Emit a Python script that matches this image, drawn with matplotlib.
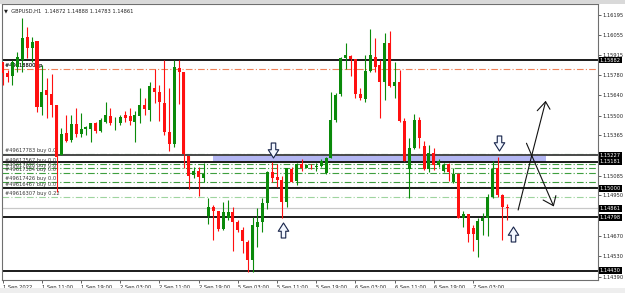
import matplotlib
matplotlib.use("Agg")
import matplotlib.pyplot as plt
import matplotlib.transforms as mtransforms
from matplotlib.patches import Rectangle
from matplotlib.path import Path

# GBPUSD H1 candles, 1 Sep 03:00 .. 7 Sep 10:00
opens = [1.15869, 1.15791, 1.15772, 1.15836, 1.15883, 1.16043, 1.15963, 1.16014, 1.15561, 1.15676,
         1.15648, 1.15573, 1.15228, 1.15378, 1.15331, 1.15442, 1.15371, 1.15407, 1.15407, 1.15446,
         1.15393, 1.15457, 1.15497, 1.15453, 1.15446, 1.15504, 1.15497, 1.15453, 1.15497, 1.15573,
         1.15538, 1.15692, 1.15664, 1.15584, 1.15384, 1.15302, 1.15830, 1.15802, 1.15223, 1.15090,
         1.15118, 1.15072, 1.14810, 1.14872, 1.14842, 1.14718, 1.14792, 1.14837, 1.14764, 1.14711,
         1.14631, 1.14505, 1.14734, 1.14764, 1.14895, 1.15113, 1.15079, 1.15056, 1.14906, 1.15132,
         1.15049, 1.15164, 1.15141, 1.15154, 1.15147, 1.15154, 1.15102, 1.15209, 1.15469, 1.15646,
         1.15898, 1.15912, 1.15889, 1.15646, 1.15614, 1.15807, 1.15905, 1.15848, 1.15733, 1.15998,
         1.15706, 1.15733, 1.15462, 1.15132, 1.15274, 1.15469, 1.15292, 1.15132, 1.15240, 1.15159,
         1.15118, 1.15164, 1.15044, 1.15095, 1.14796, 1.14819, 1.14723, 1.14642, 1.14773, 1.14792,
         1.14941, 1.15136, 1.14952, 1.14872]
highs = [1.15870, 1.15814, 1.15883, 1.15940, 1.16170, 1.16112, 1.16043, 1.16014, 1.15848, 1.15757,
         1.15784, 1.15573, 1.15412, 1.15504, 1.15504, 1.15550, 1.15515, 1.15430, 1.15446, 1.15453,
         1.15485, 1.15595, 1.15550, 1.15492, 1.15504, 1.15531, 1.15550, 1.15531, 1.15692, 1.15623,
         1.15729, 1.15819, 1.15710, 1.15883, 1.15692, 1.15883, 1.15883, 1.15802, 1.15223, 1.15147,
         1.15147, 1.15171, 1.14934, 1.14884, 1.14842, 1.14902, 1.14918, 1.14872, 1.14780, 1.14734,
         1.14642, 1.14800, 1.14865, 1.14930, 1.15118, 1.15182, 1.15164, 1.15085, 1.15141, 1.15147,
         1.15171, 1.15200, 1.15164, 1.15164, 1.15171, 1.15200, 1.15216, 1.15660, 1.15653, 1.15905,
         1.15998, 1.15917, 1.15889, 1.15688, 1.15917, 1.16096, 1.16032, 1.15883, 1.16067, 1.16082,
         1.15871, 1.15814, 1.15481, 1.15343, 1.15508, 1.15492, 1.15325, 1.15297, 1.15278, 1.15200,
         1.15171, 1.15171, 1.15136, 1.15102, 1.14842, 1.14819, 1.14746, 1.14796, 1.14826, 1.14957,
         1.15187, 1.15216, 1.14957, 1.14888]
lows = [1.15710, 1.15733, 1.15710, 1.15802, 1.15802, 1.15894, 1.15871, 1.15526, 1.15504, 1.15481,
        1.15492, 1.14975, 1.15228, 1.15316, 1.15320, 1.15354, 1.15354, 1.15366, 1.15316, 1.15378,
        1.15384, 1.15446, 1.15435, 1.15400, 1.15435, 1.15457, 1.15435, 1.15316, 1.15446, 1.15504,
        1.15462, 1.15584, 1.15462, 1.15366, 1.15256, 1.15285, 1.15577, 1.15136, 1.14994, 1.15072,
        1.14948, 1.15044, 1.14751, 1.14642, 1.14705, 1.14711, 1.14780, 1.14567, 1.14700, 1.14551,
        1.14424, 1.14424, 1.14596, 1.14700, 1.14856, 1.15044, 1.15010, 1.14796, 1.14872, 1.15040,
        1.15021, 1.15118, 1.15136, 1.15132, 1.15118, 1.15147, 1.15095, 1.15209, 1.15457, 1.15637,
        1.15821, 1.15774, 1.15619, 1.15607, 1.15595, 1.15802, 1.15802, 1.15481, 1.15607, 1.15699,
        1.15619, 1.15457, 1.15187, 1.14930, 1.15269, 1.15274, 1.15125, 1.15113, 1.15125, 1.15147,
        1.15109, 1.15049, 1.15033, 1.14792, 1.14734, 1.14627, 1.14567, 1.14527, 1.14677, 1.14672,
        1.14930, 1.14941, 1.14642, 1.14783]
closes = [1.15793, 1.15768, 1.15871, 1.15905, 1.16036, 1.15963, 1.16009, 1.15561, 1.15660, 1.15641,
          1.15573, 1.15216, 1.15371, 1.15325, 1.15442, 1.15371, 1.15407, 1.15423, 1.15446, 1.15393,
          1.15469, 1.15504, 1.15446, 1.15457, 1.15492, 1.15481, 1.15462, 1.15504, 1.15573, 1.15545,
          1.15703, 1.15664, 1.15595, 1.15384, 1.15302, 1.15836, 1.15802, 1.15233, 1.15085, 1.15118,
          1.15079, 1.15095, 1.14872, 1.14842, 1.14718, 1.14833, 1.14833, 1.14768, 1.14711, 1.14636,
          1.14505, 1.14746, 1.14768, 1.14895, 1.15113, 1.15072, 1.15056, 1.14906, 1.15136, 1.15044,
          1.15164, 1.15141, 1.15159, 1.15150, 1.15154, 1.15187, 1.15209, 1.15469, 1.15641, 1.15898,
          1.15917, 1.15889, 1.15646, 1.15619, 1.15807, 1.15917, 1.15836, 1.15733, 1.15998, 1.15706,
          1.15733, 1.15462, 1.15187, 1.15274, 1.15469, 1.15347, 1.15132, 1.15240, 1.15159, 1.15187,
          1.15159, 1.15109, 1.15095, 1.14796, 1.14819, 1.14682, 1.14682, 1.14773, 1.14792, 1.14941,
          1.15132, 1.14952, 1.14872, 1.14861]

time_ticks = [0, 8, 16, 24, 32, 40, 48, 56, 64, 72, 80, 88, 96]
time_labels = ["1 Sep 2022", "1 Sep 11:00", "1 Sep 19:00", "2 Sep 03:00", "2 Sep 11:00",
               "2 Sep 19:00", "5 Sep 03:00", "5 Sep 11:00", "5 Sep 19:00", "6 Sep 03:00",
               "6 Sep 11:00", "6 Sep 19:00", "7 Sep 03:00"]
price_ticks = [1.14390, 1.14530, 1.14670, 1.14810, 1.14950, 1.15085, 1.15225, 1.15365,
               1.15500, 1.15640, 1.15780, 1.15915, 1.16055, 1.16195]
# scale labels that sit fully under a price tag in the terminal
hidden_ticks = [1.14810, 1.15225]

# horizontal levels drawn on the chart
level_lines = [1.15882, 1.15181, 1.15000, 1.14798, 1.14430]
zone_line = 1.15227
bid_price = 1.14861
tp_price = 1.15821
zone_low, zone_high = 1.15181, 1.15227
zone_start, zone_end = 42.9, 110.9
order_prices = [1.15235, 1.15164, 1.15136, 1.15106, 1.15044, 1.15005, 1.14941]
order_labels = ["#49617783 buy 0.0", "#49617567 buy 0.0", "#49617628 buy 0.0",
                "#49617584 buy 0.0", "#49617426 buy 0.0", "#49616467 buy 0.0",
                "#49616307 buy 0.22"]
tagged_prices = [1.15882, 1.15227, 1.15181, 1.15000, 1.14861, 1.14798, 1.14430]

# hollow arrows: (bar, price, direction)
arrows = [(55.2, 1.15263, "down"), (57.2, 1.14711, "up"),
          (101.3, 1.15309, "down"), (104.1, 1.14684, "up")]

# freehand scenario sketch
sketch_up_x = [105.2, 108.0, 110.8]
sketch_up_y = [1.14849, 1.15228, 1.15595]
sketch_up_head_x = [109.1, 110.8, 111.7]
sketch_up_head_y = [1.15533, 1.15595, 1.15543]
sketch_down_x = [106.9, 112.4]
sketch_down_y = [1.15309, 1.14879]
sketch_down_head_x = [110.3, 112.4, 112.9]
sketch_down_head_y = [1.14918, 1.14879, 1.14948]

BULL = "#0a8a0a"
BEAR = "#ff1010"
FS = 3.7

plt.rcParams["font.family"] = ["DejaVu Sans"]
fig = plt.figure(figsize=(6.25, 2.93), dpi=100)
fig.patch.set_facecolor("white")
fig.patches.append(Rectangle((0, 0.988), 1, 0.012, transform=fig.transFigure,
                             facecolor="#d9d9d9", edgecolor="none"))
fig.patches.append(Rectangle((0, 0), 1, 0.018, transform=fig.transFigure,
                             facecolor="#eeeeee", edgecolor="none"))

ax = fig.add_axes([2 / 625, 13 / 293, 596 / 625, 276 / 293])
ax.set_xlim(-0.14, 121.5)
ax.set_ylim(1.14367, 1.16268)
for side in ax.spines.values():
    side.set_color("#6f6f6f")
    side.set_linewidth(0.8)

# levels and zone (behind candles, as in the terminal)
ax.add_patch(Rectangle((zone_start, zone_low), zone_end - zone_start, zone_high - zone_low,
                       facecolor="#b3b6f2", edgecolor="none", zorder=0.5))
ax.axhline(bid_price, color="#c8c8c8", lw=0.9, zorder=1)
ax.axhline(zone_line, color="#4a4a4a", lw=1.4, zorder=1.1)
for lvl in level_lines:
    ax.axhline(lvl, color="#1a1a1a", lw=1.4, zorder=1.1)
ax.axhline(tp_price, color="#f0825a", lw=0.8, ls=(0, (6, 2, 1, 2)), zorder=1)
for i, (p, lab) in enumerate(zip(order_prices, order_labels)):
    col = "#9fd49f" if i == len(order_prices) - 1 else "#3f9f3f"
    ax.axhline(p, color=col, lw=0.8, ls=(0, (6, 2, 1, 2)), zorder=1)
    ax.annotate(lab, (0.4, p), xytext=(0, 0.6), textcoords="offset points",
                fontsize=FS, color="#3a3a3a", va="bottom", ha="left", zorder=2)
for dx in (0, 0.25):
    ax.annotate("#49618800 tp", (0.4, tp_price), xytext=(dx, 0.6), textcoords="offset points",
                fontsize=FS, color="#2a2a2a", va="bottom", ha="left", zorder=2)

# candles
xs = list(range(len(opens)))
colors = [BULL if c >= o else BEAR for o, c in zip(opens, closes)]
ax.vlines(xs, lows, highs, colors=colors, lw=0.8, zorder=3)
bottoms = [min(o, c) for o, c in zip(opens, closes)]
heights = [max(abs(c - o), 0.00002) for o, c in zip(opens, closes)]
ax.bar(xs, heights, bottom=bottoms, width=0.62, color=colors, linewidth=0, zorder=3.1)

# hollow block arrows
down_path = Path([(-0.3, 1), (0.3, 1), (0.3, 0.1), (0.7, 0.1), (0, -1),
                  (-0.7, 0.1), (-0.3, 0.1), (-0.3, 1)], closed=True)
up_path = Path([(x, -y) for x, y in down_path.vertices], closed=True)
for bx, by, way in arrows:
    ax.plot([bx], [by], marker=down_path if way == "down" else up_path, markersize=10.8,
            markerfacecolor="#f3f7ff", markeredgecolor="#17244a", markeredgewidth=0.8,
            linestyle="none", zorder=5)

# sketch lines
for sx, sy in [(sketch_up_x, sketch_up_y), (sketch_up_head_x, sketch_up_head_y),
               (sketch_down_x, sketch_down_y), (sketch_down_head_x, sketch_down_head_y)]:
    ax.plot(sx, sy, color="#111111", lw=0.8, zorder=5, solid_capstyle="round")

# axes
ax.yaxis.tick_right()
ax.set_yticks(price_ticks)
ax.set_yticklabels(["" if p in hidden_ticks else f"{p:.5f}" for p in price_ticks])
ax.tick_params(axis="y", length=2, width=0.5, pad=1, labelsize=FS, colors="#222222")
ax.set_xticks(time_ticks)
ax.set_xticklabels(time_labels)
for t in ax.get_xticklabels():
    t.set_horizontalalignment("left")
ax.tick_params(axis="x", length=2.5, width=0.5, pad=1, labelsize=FS, colors="#222222")

blend = mtransforms.blended_transform_factory(ax.transAxes, ax.transData)
for p in tagged_prices:
    ax.text(1.003, p, f"{p:.5f}", transform=blend, fontsize=FS, color="white",
            va="center", ha="left", clip_on=False, zorder=6,
            bbox=dict(boxstyle="square,pad=0.18", facecolor="black", edgecolor="none"))

ax.text(0.004, 0.985, "\u25BC  GBPUSD,H1  1.14872 1.14888 1.14783 1.14861", transform=ax.transAxes,
        fontsize=FS, color="#222222", va="top", ha="left")

fig.savefig("out.png", dpi=100)
